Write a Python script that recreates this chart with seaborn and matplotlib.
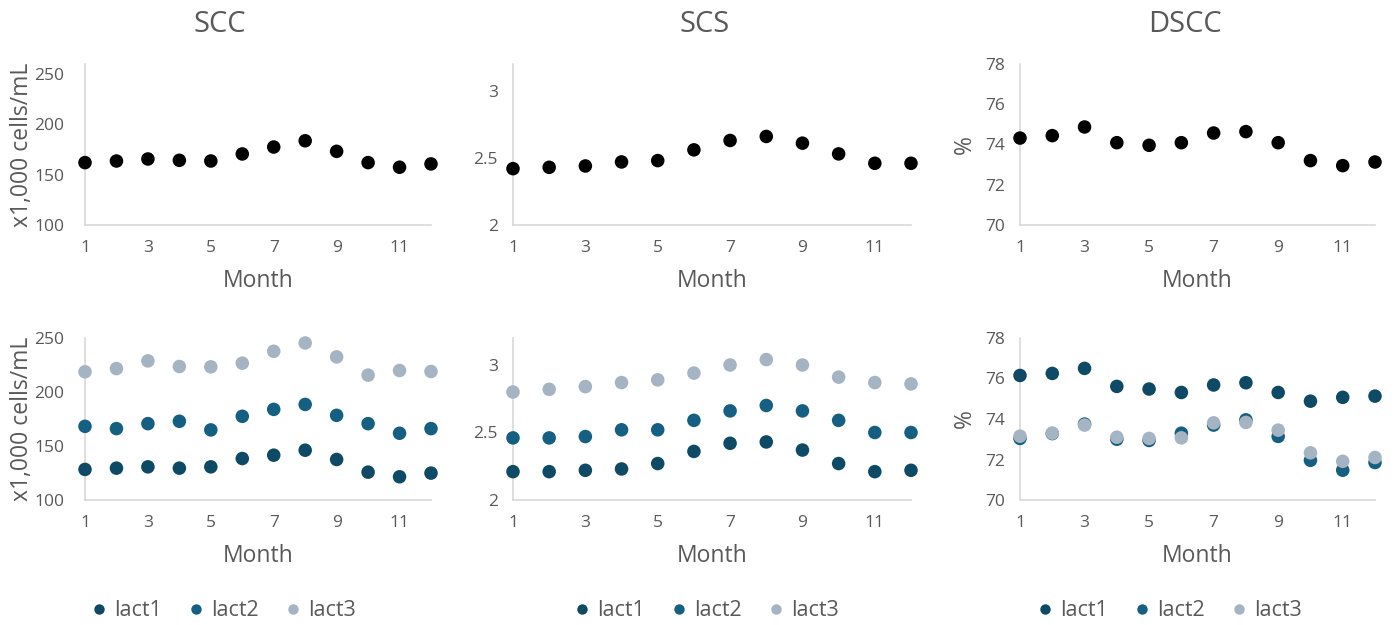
import matplotlib
matplotlib.use("Agg")
import matplotlib.pyplot as plt
import numpy as np
import pandas as pd
import seaborn as sns
from matplotlib.lines import Line2D

# ---- data -------------------------------------------------------------
months = list(range(1, 13))

scc_all = [162.0, 163.6, 165.6, 164.3, 163.6, 170.6, 177.5, 183.7, 173.2, 162.0, 157.4, 160.7]
scs_all = [2.42, 2.43, 2.44, 2.47, 2.48, 2.56, 2.63, 2.66, 2.61, 2.53, 2.46, 2.46]
dscc_all = [74.32, 74.44, 74.87, 74.09, 73.96, 74.09, 74.57, 74.64, 74.09, 73.20, 72.95, 73.13]

scc_lact1 = [128.3, 129.5, 130.7, 129.5, 130.7, 138.4, 141.5, 146.1, 137.5, 125.8, 121.5, 124.9]
scc_lact2 = [168.2, 166.1, 170.7, 172.9, 164.9, 177.5, 183.9, 188.5, 178.4, 170.7, 161.8, 166.1]
scc_lact3 = [218.7, 221.7, 228.8, 223.6, 223.3, 226.7, 237.7, 245.4, 232.5, 215.6, 219.9, 219.0]

scs_lact1 = [2.21, 2.21, 2.22, 2.23, 2.27, 2.36, 2.42, 2.43, 2.37, 2.27, 2.21, 2.22]
scs_lact2 = [2.46, 2.46, 2.47, 2.52, 2.52, 2.59, 2.66, 2.70, 2.66, 2.59, 2.50, 2.50]
scs_lact3 = [2.80, 2.82, 2.84, 2.87, 2.89, 2.94, 3.00, 3.04, 3.00, 2.91, 2.87, 2.86]

dscc_lact1 = [76.15, 76.25, 76.50, 75.61, 75.48, 75.31, 75.68, 75.79, 75.31, 74.88, 75.07, 75.13]
dscc_lact2 = [73.04, 73.28, 73.75, 73.00, 72.94, 73.30, 73.70, 73.96, 73.14, 71.96, 71.47, 71.85]
dscc_lact3 = [73.15, 73.30, 73.70, 73.10, 73.04, 73.07, 73.81, 73.83, 73.45, 72.33, 71.91, 72.10]

lactations = ["lact1", "lact2", "lact3"]
titles = ["SCC", "SCS", "DSCC"]
y_labels = ["x1,000 cells/mL", "", "%"]
x_ticks = [1, 3, 5, 7, 9, 11]

# ---- style ------------------------------------------------------------
sns.set_theme(style="white")
plt.rcParams["font.family"] = ["Open Sans", "DejaVu Sans"]

TEXT = "#595959"
AXIS = "#D9D9D9"
palette = {"lact1": "#0E4A66", "lact2": "#156082", "lact3": "#A5B4C2"}

W, H = 1395, 625
fig = plt.figure(figsize=(W / 100, H / 100), dpi=100)


def frac_box(x0, x1, ytop, ybot):
    return [x0 / W, 1 - ybot / H, (x1 - x0) / W, (ybot - ytop) / H]


col_x = [(85, 431), (513, 911), (1020, 1375)]
top_rows = (64, 225)
bot_rows = (338, 500)

top_lims = [(100, 260), (2, 3.2), (70, 78)]
bot_lims = [(100, 250), (2, 3.2), (70, 78)]
y_ticks = [[100, 150, 200, 250], [2, 2.5, 3], [70, 72, 74, 76, 78]]
y_pad = [15, 11, 11]
y_label_px = [22, None, 965]

overall = [scc_all, scs_all, dscc_all]
by_lact = [
    [scc_lact1, scc_lact2, scc_lact3],
    [scs_lact1, scs_lact2, scs_lact3],
    [dscc_lact1, dscc_lact2, dscc_lact3],
]


def style_axis(ax, j, lims):
    ax.set_xlim(1, 12)
    ax.set_ylim(*lims)
    ax.set_xticks(x_ticks)
    ax.set_yticks(y_ticks[j])
    ax.set_yticklabels([f"{v:g}" for v in y_ticks[j]])
    for side in ("top", "right"):
        ax.spines[side].set_visible(False)
    for side in ("left", "bottom"):
        ax.spines[side].set_color(AXIS)
        ax.spines[side].set_linewidth(1.2)
        ax.spines[side].set_zorder(1)
    ax.tick_params(axis="x", length=0, pad=11, labelsize=12.5, labelcolor=TEXT)
    ax.tick_params(axis="y", length=0, pad=y_pad[j], labelsize=12.5, labelcolor=TEXT)
    ax.set_xlabel("Month", fontsize=16.5, color=TEXT, labelpad=9)
    ax.set_ylabel(y_labels[j], fontsize=16.5, color=TEXT)
    if y_label_px[j] is not None:
        x0, x1 = col_x[j]
        ax.yaxis.set_label_coords((y_label_px[j] - x0) / (x1 - x0), 0.5)
        ax.yaxis.label.set_verticalalignment("center")
    ax.set_facecolor("white")


for j in range(3):
    # overall monthly means
    ax = fig.add_axes(frac_box(col_x[j][0], col_x[j][1], *top_rows))
    df = pd.DataFrame({"Month": months, "value": overall[j]})
    sns.scatterplot(data=df, x="Month", y="value", color="black", s=95,
                    edgecolor="none", ax=ax, clip_on=False, zorder=3)
    style_axis(ax, j, top_lims[j])

    # monthly means by lactation
    ax = fig.add_axes(frac_box(col_x[j][0], col_x[j][1], *bot_rows))
    frames = [pd.DataFrame({"Month": months, "value": vals, "Lactation": lab})
              for lab, vals in zip(lactations, by_lact[j])]
    dfl = pd.concat(frames, ignore_index=True)
    sns.scatterplot(data=dfl, x="Month", y="value", hue="Lactation",
                    hue_order=lactations, palette=palette, s=95,
                    edgecolor="none", ax=ax, clip_on=False, zorder=3,
                    legend=False)
    style_axis(ax, j, bot_lims[j])

# panel titles
title_x = [220, 705, 1185]
for tx, t in zip(title_x, titles):
    fig.text(tx / W, 1 - 25 / H, t, ha="center", va="center",
             fontsize=21, color=TEXT)

# legends under each column
legend_x = [222, 705, 1168]
handles = [Line2D([], [], marker="o", linestyle="", markersize=7.5,
                  markerfacecolor=palette[l], markeredgecolor="none")
           for l in lactations]
for lx in legend_x:
    fig.legend(handles, lactations, loc="center", ncol=3,
               bbox_to_anchor=(lx / W, 1 - 611 / H), frameon=False,
               fontsize=15.5, labelcolor=TEXT, handletextpad=0.2,
               columnspacing=1.1, handlelength=1.0)

fig.savefig("out.png", dpi=100, facecolor="white")
